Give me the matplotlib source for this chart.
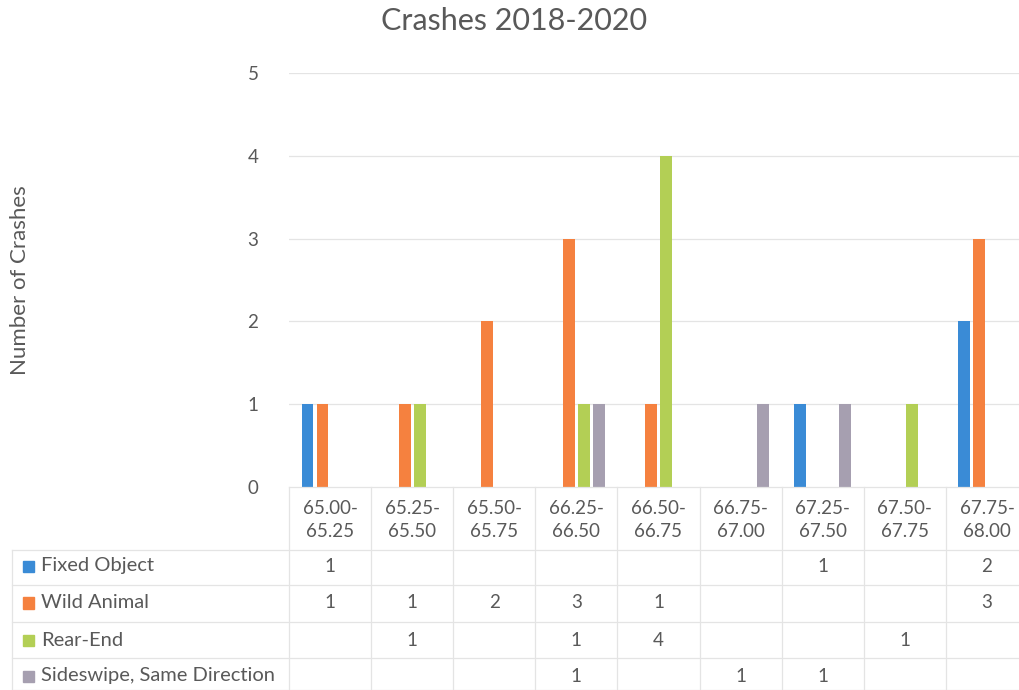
import matplotlib
matplotlib.use("Agg")
import matplotlib.pyplot as plt
from matplotlib.transforms import blended_transform_factory
from matplotlib.patches import Rectangle
from matplotlib.lines import Line2D

categories = ["65.00-\n65.25", "65.25-\n65.50", "65.50-\n65.75", "66.25-\n66.50",
              "66.50-\n66.75", "66.75-\n67.00", "67.25-\n67.50", "67.50-\n67.75",
              "67.75-\n68.00"]
series_names = ["Fixed Object", "Wild Animal", "Rear-End", "Sideswipe, Same Direction"]
fixed_object = [1, None, None, None, None, None, 1, None, 2]
wild_animal = [1, 1, 2, 3, 1, None, None, None, 3]
rear_end = [None, 1, None, 1, 4, None, None, 1, None]
sideswipe = [None, None, None, 1, None, 1, 1, None, None]
series_values = [fixed_object, wild_animal, rear_end, sideswipe]
colors = ["#3A8BD6", "#F5813F", "#B3CF55", "#A69FB0"]
title = "Crashes 2018-2020"
ylabel = "Number of Crashes"
yticks = [0, 1, 2, 3, 4, 5]

plt.rcParams['font.family'] = ['Lato', 'DejaVu Sans']
TXT = "#595959"
GRID = "#E4E4E4"

W, H = 1020, 690
fig = plt.figure(figsize=(W / 100, H / 100), dpi=100)

def fx(px):
    return px / W

def fy(py):
    return 1 - py / H

ax_left, ax_right, ax_top, ax_bot = 289, 1028, 73, 487
ax = fig.add_axes([fx(ax_left), fy(ax_bot), fx(ax_right - ax_left), fy(ax_top) - fy(ax_bot)])
n = len(categories)
ax.set_xlim(-0.5, n - 0.5)
ax.set_ylim(0, 5)

spacing = 0.183
bw = 0.145
for s, (vals, col) in enumerate(zip(series_values, colors)):
    off = (s - 1.5) * spacing
    xs = [i + off for i, v in enumerate(vals) if v is not None]
    hs = [v for v in vals if v is not None]
    ax.bar(xs, hs, width=bw, color=col, zorder=3)

for sp in ax.spines.values():
    sp.set_visible(False)
ax.set_yticks(yticks)
ax.set_yticklabels([str(t) for t in yticks], fontsize=13.5, color=TXT)
ax.tick_params(axis='y', length=0, pad=22)
ax.set_xticks([])
for t in yticks[1:]:
    ax.axhline(t, color=GRID, lw=0.9, zorder=1)

fig.text(fx(514), fy(21), title, ha='center', va='center', fontsize=22,
         color=TXT, fontweight='normal')
fig.text(fx(20), fy(280), ylabel, ha='center', va='center', rotation=90,
         fontsize=16, color=TXT)

# data table
tr = blended_transform_factory(ax.transData, fig.transFigure)
row_lines = [487, 550, 585, 622, 658, 690]
left_edge = 12
for py in row_lines[1:]:
    fig.add_artist(Line2D([fx(left_edge), fx(W)], [fy(py), fy(py)], color=GRID, lw=0.9))
fig.add_artist(Line2D([fx(ax_left), fx(W)], [fy(487), fy(487)], color=GRID, lw=0.9))
fig.add_artist(Line2D([fx(left_edge), fx(left_edge)], [fy(550), fy(690)], color=GRID, lw=0.9))
for i in range(n):
    xb = i - 0.5
    fig.add_artist(Line2D([xb, xb], [fy(487), fy(690)], transform=tr, color=GRID, lw=0.9))

for i, lab in enumerate(categories):
    fig.text(i, fy(520), lab, transform=tr, ha='center', va='center',
             fontsize=13.5, color=TXT, linespacing=1.4)

row_y = [566, 603, 640, 676]
for r, (name, vals, col) in enumerate(zip(series_names, series_values, colors)):
    y = row_y[r]
    fig.add_artist(Rectangle((fx(23), fy(y + 5.5)), fx(11), fy(y - 5.5) - fy(y + 5.5),
                             transform=fig.transFigure, color=col))
    fig.text(fx(41), fy(y), name, ha='left', va='center', fontsize=14.5, color=TXT)
    for i, v in enumerate(vals):
        if v is not None:
            fig.text(i, fy(y), str(v), transform=tr, ha='center', va='center',
                     fontsize=13.5, color=TXT)

fig.savefig("out.png", dpi=100)
